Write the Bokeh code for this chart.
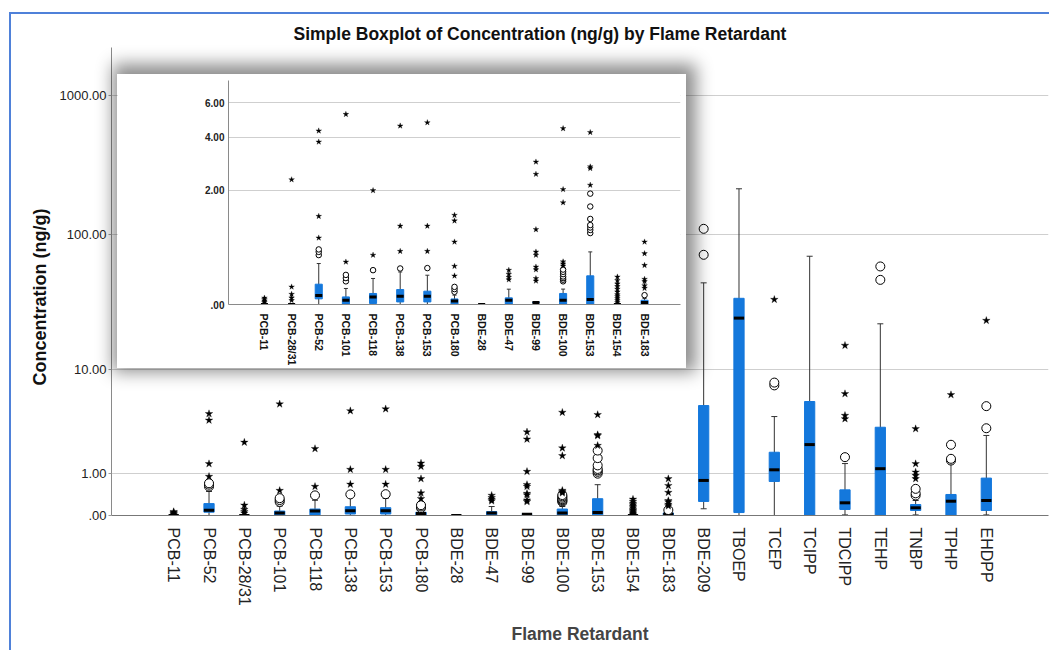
import math
import numpy as np
from bokeh.plotting import figure
from bokeh.models import FactorRange, Range1d, FixedTicker, Div, Title
from bokeh.layouts import column
from bokeh.embed import file_html
from bokeh.resources import INLINE

# ---------------- data (ng/g) ----------------
categories = ["PCB-11", "PCB-52", "PCB-28/31", "PCB-101", "PCB-118", "PCB-138", "PCB-153",
              "PCB-180", "BDE-28", "BDE-47", "BDE-99", "BDE-100", "BDE-153", "BDE-154",
              "BDE-183", "BDE-209", "TBOEP", "TCEP", "TCIPP", "TDCIPP", "TEHP", "TNBP",
              "TPHP", "EHDPP"]
inset_categories = ["PCB-11", "PCB-28/31", "PCB-52", "PCB-101", "PCB-118", "PCB-138", "PCB-153",
                    "PCB-180", "BDE-28", "BDE-47", "BDE-99", "BDE-100", "BDE-153", "BDE-154",
                    "BDE-183"]

whisker_low = [0, 0, 0, 0, 0, 0, 0, 0, 0, 0, 0.02, 0, 0, 0, 0, 0.117, 0, 0, 0, 0.01, 0, 0.01, 0, 0.01]
q1 = [0, 0.056, 0, 0.005, 0.01, 0.025, 0.025, 0.005, 0, 0.005, 0.02, 0.005, 0.005, 0, 0,
      0.26, 0.05, 0.75, 0, 0.104, 0, 0.086, 0, 0.086]
median = [0, 0.09, 0, 0.042, 0.076, 0.083, 0.083, 0.035, 0, 0.042, 0.02, 0.042, 0.049, 0, 0.02,
          0.78, 24.7, 1.12, 2.21, 0.232, 1.16, 0.135, 0.265, 0.28]
q3 = [0, 0.216, 0, 0.076, 0.112, 0.155, 0.137, 0.055, 0, 0.066, 0.02, 0.112, 0.318, 0, 0.042,
      5.1, 34.6, 1.83, 5.52, 0.525, 3.27, 0.198, 0.413, 0.85]
whisker_high = [0, 0.484, 0, 0.167, 0.285, 0.368, 0.326, 0.094, 0, 0.159, 0.02, 0.16, 0.66, 0, 0.06,
                44.9, 214.6, 4.09, 70.1, 1.35, 22.4, 0.28, 1.34, 2.73]
outliers = [[], [0.61, 0.66, 0.70], [], [0.25, 0.29, 0.33], [0.392], [0.415], [0.42],
            [0.13, 0.16, 0.185], [], [], [], [0.25, 0.27, 0.29, 0.31, 0.34, 0.37, 0.40],
            [0.99, 1.05, 1.1, 1.15, 1.28, 1.57, 1.91], [], [0.094],
            [71.8, 110.6], [], [7.5, 7.9], [], [1.61], [47.2, 59.1], [0.39, 0.44, 0.55],
            [1.47, 1.54, 2.2], [3.2, 5.04]]
extremes = [[0.02, 0.035, 0.05, 0.065], [0.90, 1.34, 3.79, 4.33], [0.04, 0.066, 0.104, 0.185, 2.33],
            [0.507, 5.25], [0.61, 2.0], [0.67, 1.13, 4.59], [0.67, 1.13, 4.77],
            [0.318, 0.446, 0.828, 1.24, 1.364], [], [0.27, 0.30, 0.339, 0.392],
            [0.255, 0.285, 0.40, 0.436, 0.61, 0.66, 1.06, 2.51, 2.95],
            [0.45, 0.48, 0.51, 1.67, 2.03, 4.45], [2.16, 2.71, 2.77, 4.25],
            [0.02, 0.04, 0.06, 0.08, 0.10, 0.13, 0.16, 0.19, 0.22, 0.26, 0.305],
            [0.17, 0.2, 0.25, 0.276, 0.459, 0.634, 0.828],
            [], [], [33.9], [], [3.9, 4.18, 6.4, 15.4], [], [0.83, 0.93, 1.04, 1.34, 3.16],
            [6.28], [23.7]]

main_ticks = [0, 1, 10, 100, 1000]
main_tick_labels = [".00", "1.00", "10.00", "100.00", "1000.00"]
inset_ticks = [0, 2, 4, 6]
inset_tick_labels = [".00", "2.00", "4.00", "6.00"]

BLUE = "#1478DC"
FONT = "Liberation Sans"


def tr(v):
    # axis scale of the original chart: log10(x + 1)
    return np.log10(np.asarray(v, dtype=float) + 1.0)


def draw_boxes(fig, names, box_w, cap, circ, star):
    idx = [categories.index(n) for n in names]
    wl = [whisker_low[i] for i in idx]
    wh = [whisker_high[i] for i in idx]
    b1 = [q1[i] for i in idx]
    b3 = [q3[i] for i in idx]
    md = [median[i] for i in idx]
    fig.segment(x0=names, y0=tr(wl), x1=names, y1=tr(wh), line_color="#333333", line_width=1)
    fig.scatter(x=names, y=tr(wh), marker="dash", size=cap, line_color="#333333", line_width=1)
    fig.scatter(x=names, y=tr(wl), marker="dash", size=cap, line_color="#333333", line_width=1)
    fig.vbar(x=names, width=box_w, bottom=tr(b1), top=tr(b3), fill_color=BLUE, line_color=BLUE)
    fig.rect(x=names, y=tr(md), width=box_w, height=3, height_units="screen",
             fill_color="black", line_color=None)
    ox = [n for n, i in zip(names, idx) for _ in outliers[i]]
    oy = [v for i in idx for v in outliers[i]]
    ex = [n for n, i in zip(names, idx) for _ in extremes[i]]
    ey = [v for i in idx for v in extremes[i]]
    fig.scatter(x=ox, y=tr(oy), marker="circle", size=circ, fill_color="white",
                line_color="black", line_width=1)
    fig.scatter(x=ex, y=tr(ey), marker="star", size=star, fill_color="black",
                line_color="black", line_width=0.3)


def style_y(fig, ticks, labels, size, bold, tick_out):
    pos = [float(t) for t in tr(ticks)]
    fig.yaxis.ticker = FixedTicker(ticks=pos)
    fig.ygrid.ticker = FixedTicker(ticks=pos[1:])
    fig.yaxis.major_label_overrides = {p_: l for p_, l in zip(pos, labels)}
    fig.yaxis.minor_tick_line_color = None
    fig.yaxis.major_tick_out = tick_out
    fig.yaxis.major_tick_in = 0
    fig.yaxis.major_tick_line_color = "#9a9a9a"
    fig.yaxis.axis_line_color = "#8a8a8a"
    fig.yaxis.major_label_text_font = FONT
    fig.yaxis.major_label_text_font_size = size
    fig.yaxis.major_label_text_font_style = "bold" if bold else "normal"
    fig.yaxis.major_label_text_color = "#222222"
    fig.ygrid.grid_line_color = "#cfcfcf"
    fig.xgrid.grid_line_color = None


# ---------------- main figure ----------------
p = figure(x_range=FactorRange(*categories, range_padding=1.26, range_padding_units="absolute"),
           y_range=Range1d(0, 468 / 140.0),
           width=1054, height=657, output_backend="svg", toolbar_location=None,
           min_border_left=111, min_border_right=0, min_border_top=47, min_border_bottom=142)
p.outline_line_color = None
p.title.text = "Simple Boxplot of Concentration (ng/g) by Flame Retardant"
p.title.align = "left"
p.title.offset = 182
p.title.standoff = 8
p.title.text_font = FONT
p.title.text_font_size = "17.5px"
p.title.text_font_style = "bold"
p.title.text_color = "#111111"

style_y(p, main_ticks, main_tick_labels, "13px", False, 3)
p.yaxis.major_label_standoff = 2
ylab = Title(text="Concentration (ng/g)", align="left", offset=130, standoff=14,
             text_font=FONT, text_font_size="18px", text_font_style="bold",
             text_color="#111111")
p.add_layout(ylab, "left")

p.xaxis.major_tick_line_color = None
p.xaxis.axis_line_color = "#777777"
p.xaxis.major_label_orientation = -math.pi / 2
p.xaxis.major_label_text_font = FONT
p.xaxis.major_label_text_font_size = "16px"
p.xaxis.major_label_text_color = "#222222"
p.xaxis.major_label_standoff = 6
p.xaxis.axis_label = "Flame Retardant"
p.xaxis.axis_label_text_font = FONT
p.xaxis.axis_label_text_font_size = "17.5px"
p.xaxis.axis_label_text_font_style = "bold"
p.xaxis.axis_label_standoff = 15

draw_boxes(p, categories, 0.29, 6, 9, 8)

# ---------------- inset figure ----------------
q = figure(x_range=FactorRange(*inset_categories, range_padding=0.824, range_padding_units="absolute"),
           y_range=Range1d(0, 224 / 239.0),
           width=569, height=294, output_backend="svg", toolbar_location=None,
           min_border_left=43, min_border_right=6, min_border_top=6, min_border_bottom=64,
           styles={"position": "absolute", "left": "117px", "top": "74px",
                   "box-shadow": "3px -3px 16px 7px rgba(0,0,0,0.45)"})
q.outline_line_color = None
style_y(q, inset_ticks, inset_tick_labels, "10px", True, 0)
q.yaxis.major_label_standoff = 4
q.xaxis.major_tick_line_color = None
q.xaxis.axis_line_color = "#8a8a8a"
q.xaxis.major_label_orientation = -math.pi / 2
q.xaxis.major_label_text_font = FONT
q.xaxis.major_label_text_font_size = "10.5px"
q.xaxis.major_label_text_font_style = "bold"
q.xaxis.major_label_text_color = "#111111"
q.xaxis.major_label_standoff = 3

draw_boxes(q, inset_categories, 0.26, 4, 5.5, 6)

# ---------------- frame border ----------------
frame = Div(text="", width=1040, height=638, margin=0,
            styles={"position": "absolute", "left": "9px", "top": "12px",
                    "border-left": "2px solid #4f81d9", "border-top": "2px solid #4f81d9",
                    "pointer-events": "none"})

layout = column(p, q, frame)
open("out.html", "w").write(file_html(layout, INLINE))
